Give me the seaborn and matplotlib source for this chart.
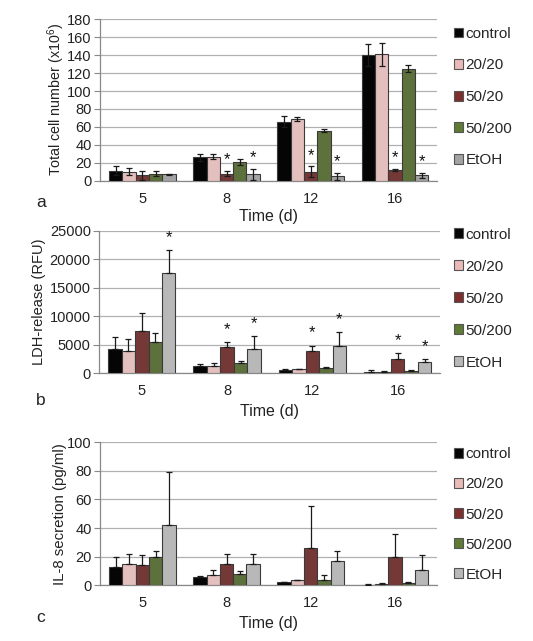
import numpy as np
import pandas as pd
import matplotlib
matplotlib.use("Agg")
import matplotlib.pyplot as plt
import seaborn as sns
from matplotlib.patches import Patch

sns.set_style("white")
plt.rcParams['font.family'] = ['Liberation Sans', 'DejaVu Sans']
plt.rcParams['mathtext.default'] = 'regular'

days = ["5", "8", "12", "16"]
groups = ["control", "20/20", "50/20", "50/200", "EtOH"]
colors = ["#050505", "#E9BAB7", "#7E2E2C", "#5E7A33", "#B5B5B5"]

# Panel a: total cell number (x10^6)
cell_mean = {
    "control": [11, 26, 66, 140],
    "20/20":   [10, 27, 69, 141],
    "50/20":   [6, 8, 10, 12],
    "50/200":  [8, 21, 56, 125],
    "EtOH":    [7, 7, 5, 6],
}
cell_err = {
    "control": [5, 4, 6, 12],
    "20/20":   [4, 3, 2, 13],
    "50/20":   [5, 3, 6, 1],
    "50/200":  [3, 3, 2, 4],
    "EtOH":    [0.5, 6, 4, 3],
}
cell_stars = [("50/20", "8"), ("EtOH", "8"), ("50/20", "12"), ("EtOH", "12"),
              ("50/20", "16"), ("EtOH", "16")]

# Panel b: LDH release (RFU)
ldh_mean = {
    "control": [4300, 1200, 600, 200],
    "20/20":   [3800, 1300, 700, 250],
    "50/20":   [7400, 4500, 3800, 2500],
    "50/200":  [5400, 1800, 900, 300],
    "EtOH":    [17500, 4200, 4700, 2000],
}
ldh_err = {
    "control": [2000, 400, 200, 300],
    "20/20":   [2200, 500, 100, 50],
    "50/20":   [3100, 1000, 1000, 1000],
    "50/200":  [1600, 400, 100, 200],
    "EtOH":    [4100, 2300, 2500, 400],
}
ldh_stars = [("EtOH", "5"), ("50/20", "8"), ("EtOH", "8"), ("50/20", "12"),
             ("EtOH", "12"), ("50/20", "16"), ("EtOH", "16")]

# Panel c: IL-8 secretion (pg/ml)
il8_mean = {
    "control": [13, 6, 2, 0.5],
    "20/20":   [15, 7, 3.5, 1],
    "50/20":   [14, 15, 26, 20],
    "50/200":  [20, 8, 4, 1.5],
    "EtOH":    [42, 15, 17, 11],
}
il8_err = {
    "control": [7, 0.5, 0.5, 0.5],
    "20/20":   [7, 4, 0.5, 0.3],
    "50/20":   [7, 7, 29.5, 15.5],
    "50/200":  [4, 2, 3, 1],
    "EtOH":    [37, 7, 7, 10],
}

fig = plt.figure(figsize=(5.33, 6.41), dpi=100)

panels = [
    dict(mean=cell_mean, err=cell_err, stars=cell_stars, two=True, etoh="#A3A3A3",
         rect=[0.188, 0.718, 0.632, 0.252], ylim=(0, 180), yt=np.arange(0, 181, 20),
         ylabel="Total cell number (x10$^{6}$)", letter="a", letter_y=0.677,
         star_off=4, ylx=-0.10, legy=0.958, ls=1.15, xlp=2, ylfs=10.3),
    dict(mean=ldh_mean, err=ldh_err, stars=ldh_stars, two=False, etoh="#B8B8B8",
         rect=[0.186, 0.418, 0.640, 0.222], ylim=(0, 25000), yt=np.arange(0, 25001, 5000),
         ylabel="LDH-release (RFU)", letter="b", letter_y=0.368,
         star_off=900, ylx=-0.155, legy=0.645, ls=1.18, xlp=4, ylfs=10.5),
    dict(mean=il8_mean, err=il8_err, stars=[], two=False, etoh="#B8B8B8",
         rect=[0.188, 0.087, 0.632, 0.223], ylim=(0, 100), yt=np.arange(0, 101, 20),
         ylabel="IL-8 secretion (pg/ml)", letter="c", letter_y=0.030,
         star_off=3, ylx=-0.10, legy=0.302, ls=1.05, xlp=4, ylfs=10.8),
]

for p in panels:
    ax = fig.add_axes(p["rect"])
    pal = colors[:4] + [p["etoh"]]
    rows = []
    for g in groups:
        for d, v in zip(days, p["mean"][g]):
            rows.append(dict(day=d, group=g, value=v))
    df = pd.DataFrame(rows)
    sns.barplot(data=df, x="day", y="value", hue="group", order=days, hue_order=groups,
                palette=pal, errorbar=None, width=0.79, edgecolor="#3a3a3a",
                linewidth=0.8, ax=ax, legend=False, zorder=3)
    for gi, g in enumerate(groups):
        cont = ax.containers[gi]
        xs = [b.get_x() + b.get_width() / 2 for b in cont]
        ys = p["mean"][g]
        es = p["err"][g]
        if p["two"]:
            yerr = es
        else:
            yerr = [np.zeros(len(es)), es]
        ax.errorbar(xs, ys, yerr=yerr, fmt="none", ecolor="#1a1a1a", elinewidth=0.9,
                    capsize=2.5, capthick=0.9, zorder=4)
    for g, d in p["stars"]:
        gi = groups.index(g)
        di = days.index(d)
        b = ax.containers[gi][di]
        top = p["mean"][g][di] + p["err"][g][di]
        ax.text(b.get_x() + b.get_width() / 2, top + p["star_off"], "*", ha="center",
                va="bottom", fontsize=12, color="#111111")
    ax.set_ylim(*p["ylim"])
    ax.set_yticks(p["yt"])
    ax.set_yticklabels([str(int(v)) for v in p["yt"]], fontsize=10.5, color="#222222")
    ax.set_xlim(-0.5, 3.5)
    ax.set_xticks(range(4))
    ax.set_xticklabels(days, fontsize=10.5, color="#222222")
    ax.set_xticks(np.arange(-0.5, 3.6, 1), minor=True)
    ax.tick_params(axis="x", which="major", length=0, pad=8)
    ax.tick_params(axis="x", which="minor", length=4, color="#888888", direction="out")
    ax.tick_params(axis="y", length=4, color="#888888", direction="out", pad=2, left=True)
    ax.yaxis.grid(True, color="#b0b0b0", linewidth=0.9, zorder=0)
    ax.set_axisbelow(True)
    for s in ["top", "right"]:
        ax.spines[s].set_visible(False)
    for s in ["left", "bottom"]:
        ax.spines[s].set_color("#888888")
        ax.spines[s].set_linewidth(0.9)
    ax.set_xlabel("Time (d)", fontsize=11.5, labelpad=p["xlp"], color="#222222")
    ax.set_ylabel(p["ylabel"], fontsize=p["ylfs"], color="#222222")
    ax.yaxis.set_label_coords(p["ylx"], 0.5)
    fig.text(0.068, p["letter_y"], p["letter"], fontsize=12.5, color="#222222")
    handles = [Patch(facecolor=c, edgecolor="#555555", linewidth=0.8) for c in pal]
    fig.legend(handles, groups, loc="upper left", bbox_to_anchor=(0.852, p["legy"]),
               frameon=False, fontsize=11, handlelength=0.6, handleheight=0.6,
               handletextpad=0.15, labelspacing=p["ls"], borderaxespad=0, borderpad=0)

fig.savefig("out.png", dpi=100)
